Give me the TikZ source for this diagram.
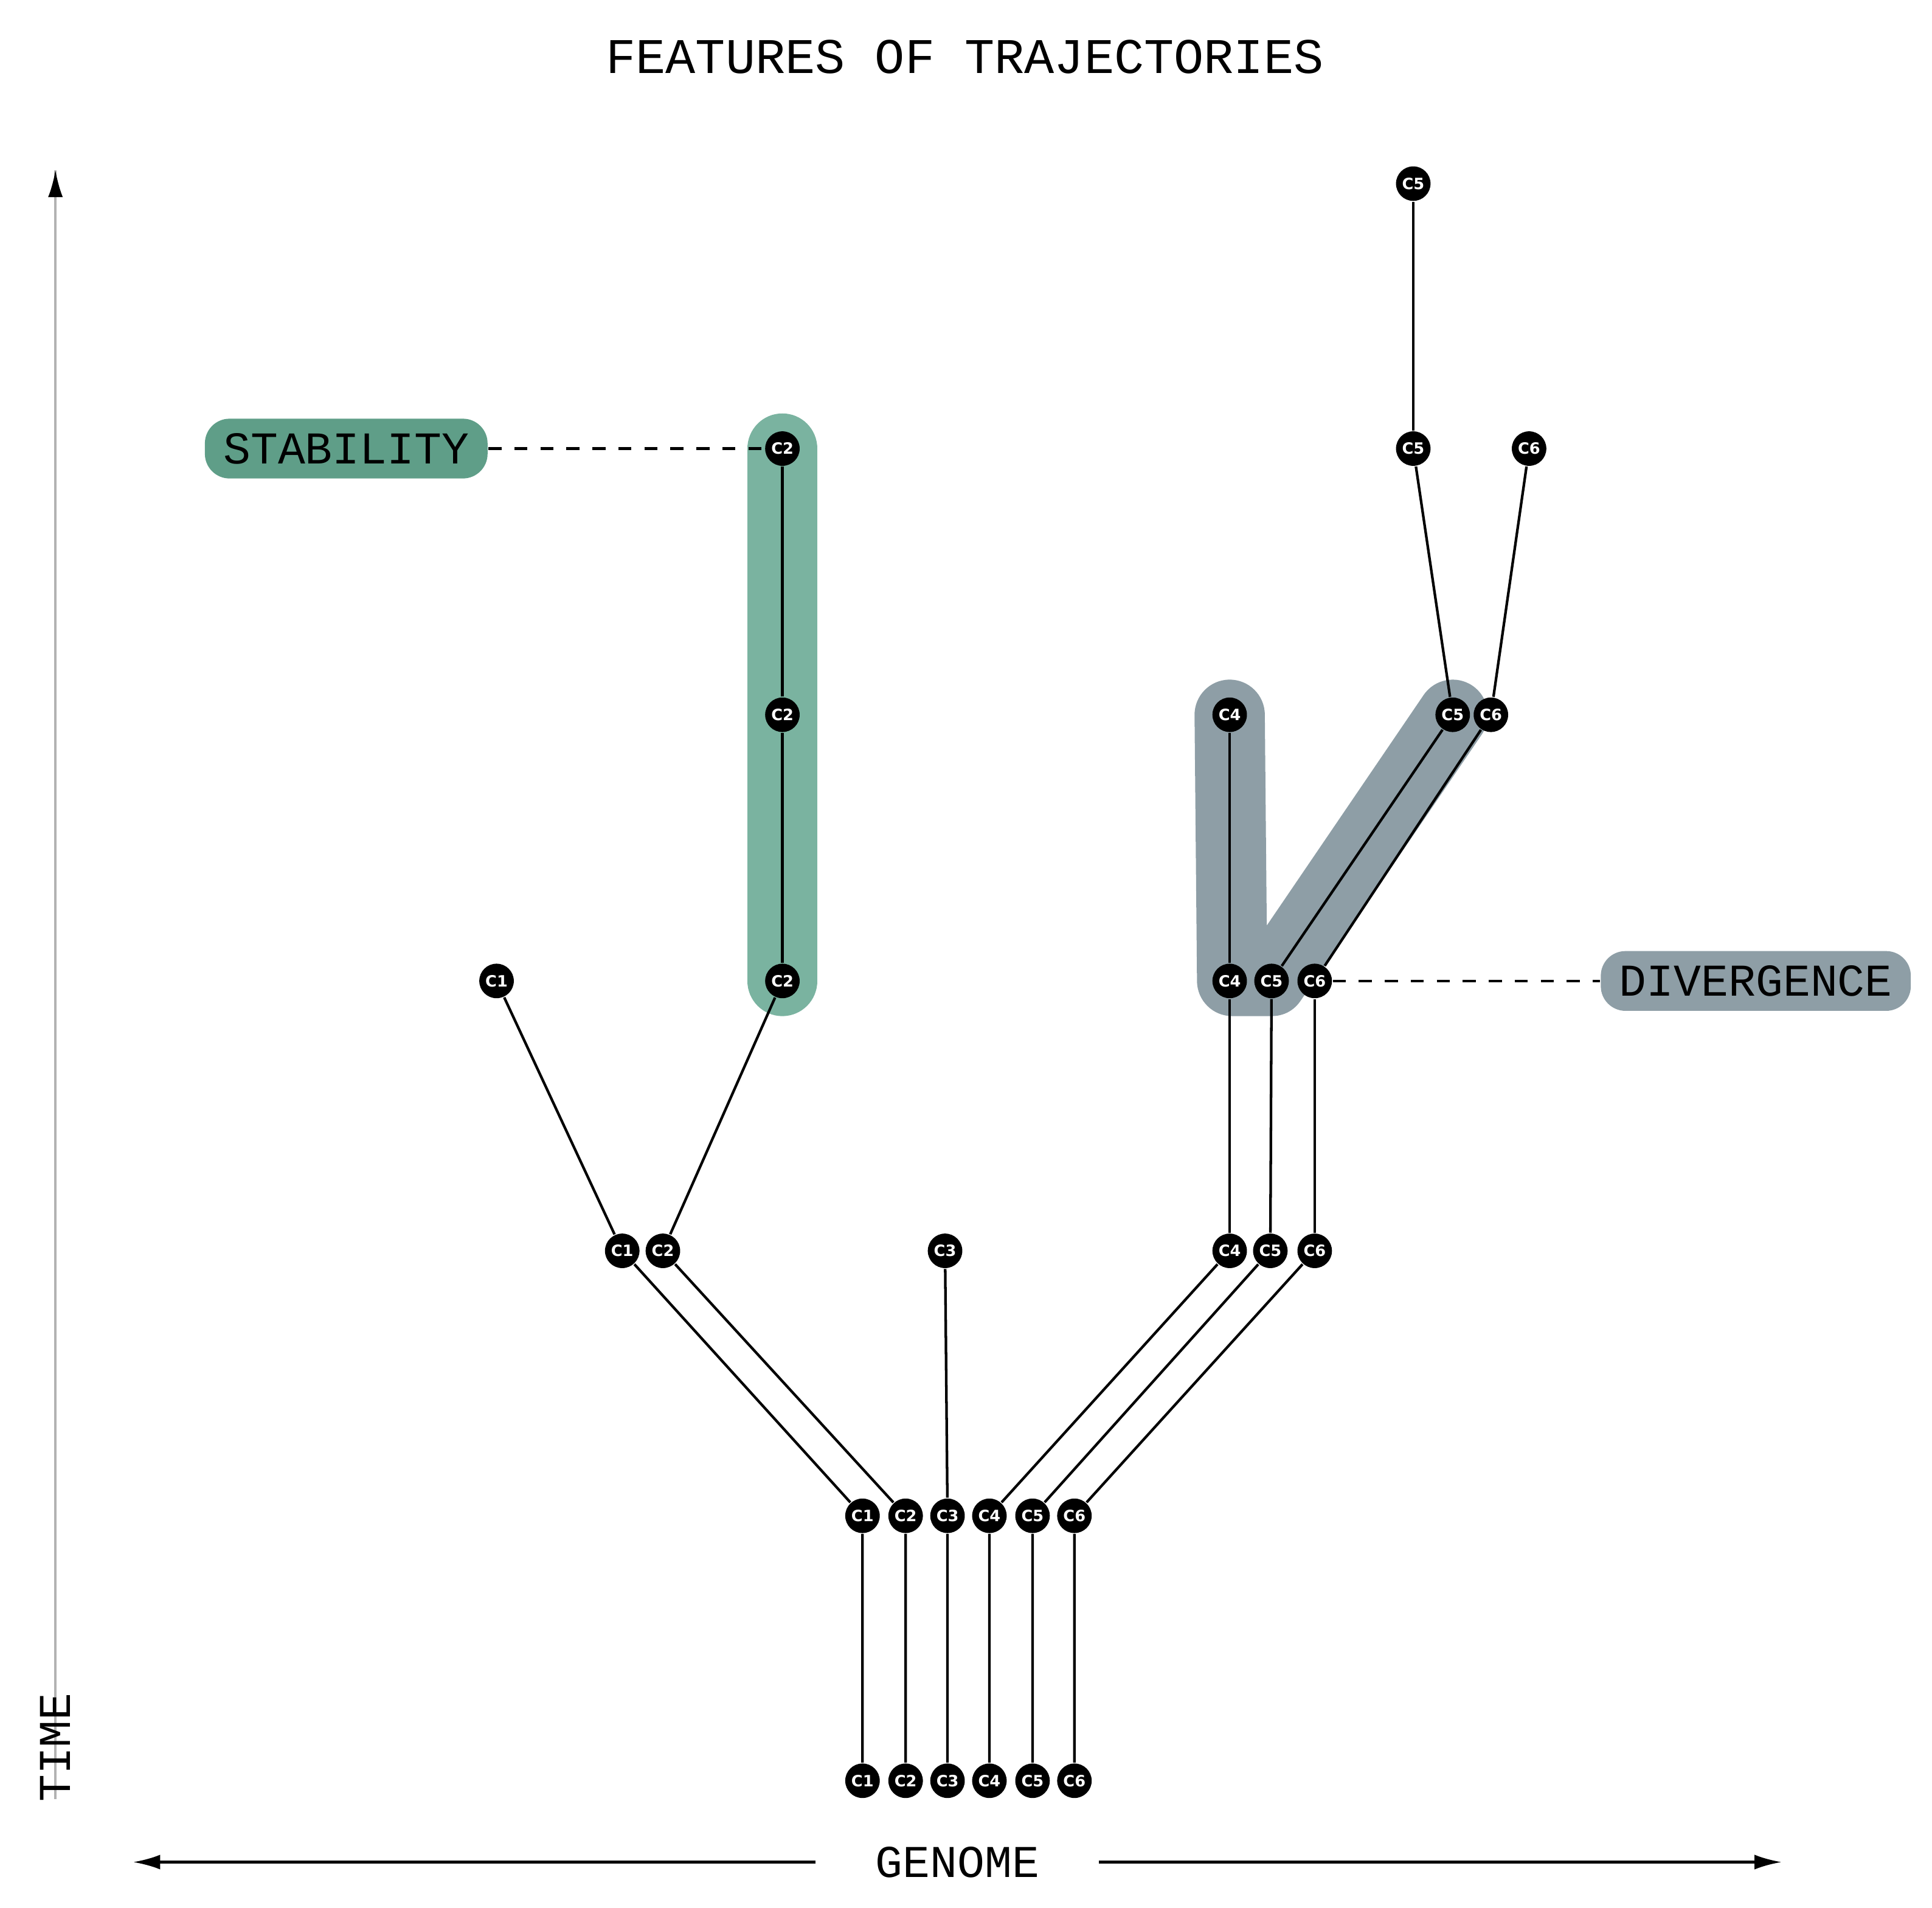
\documentclass[tikz,border=0pt]{standalone}
\usepackage{fontspec}
\setmainfont{Liberation Mono}
\newfontfamily\cellfont{DejaVu Sans}
\usetikzlibrary{positioning, arrows.meta}
\definecolor{stabgreen}{HTML}{5F9E88}
\definecolor{stablight}{HTML}{7AB3A0}
\definecolor{divgray}{HTML}{8E9EA6}
\tikzstyle{cell}  = [circle, fill=black, inner sep=0pt, minimum size=0.28cm, text=white, font=\cellfont\bfseries\fontsize{3.6}{4}\selectfont]
\tikzstyle{link}  = [line width=0.6pt]
\tikzstyle{tag}   = [rectangle, rounded corners=0.2cm, minimum height=0.42cm, inner xsep=0.15cm, font=\fontsize{10.5}{12}\selectfont]
\tikzstyle{hilite}= [line width=0.57cm, line cap=round, line join=round]

\begin{document}
\begin{tikzpicture}[x=0.01cm, y=-0.01cm]
            \useasboundingbox (0,0) rectangle (1568,1548);

            % highlights
            \draw[hilite, stablight] (635,364) -- (635,796);
            \draw[hilite, divgray] (998,580) -- (1000,796) -- (1032,796) -- (1179,580);

            % cells, row by row
            \foreach \i/\x in {1/700, 2/735, 3/769, 4/803, 5/838, 6/872} {
                \node[cell] (a\i) at (\x,1445) {C\i};
                \node[cell] (b\i) at (\x,1230) {C\i};
            }
            \foreach \i/\x in {1/505, 2/538, 3/767, 4/998, 5/1031, 6/1067}
                \node[cell] (c\i) at (\x,1015) {C\i};
            \foreach \i/\x in {1/403, 2/635, 4/998, 5/1032, 6/1067}
                \node[cell] (d\i) at (\x,796) {C\i};
            \foreach \i/\x in {2/635, 4/998, 5/1179, 6/1210}
                \node[cell] (e\i) at (\x,580) {C\i};
            \foreach \i/\x in {2/635, 5/1147, 6/1241}
                \node[cell] (f\i) at (\x,364) {C\i};
            \node[cell] (g5) at (1147,149) {C5};

            % trajectories
            \foreach \i in {1,...,6} \draw[link] (a\i) -- (b\i) -- (c\i);
            \foreach \i in {1,2,4,5,6} \draw[link] (c\i) -- (d\i);
            \foreach \i in {2,4,5,6} \draw[link] (d\i) -- (e\i);
            \foreach \i in {2,5,6} \draw[link] (e\i) -- (f\i);
            \draw[link] (f5) -- (g5);

            % labels
            \node[tag, fill=stabgreen] (stab) at (281,364) {STABILITY};
            \node[tag, fill=divgray]   (div)  at (1425,796) {DIVERGENCE};
            \draw[link, dashed] (stab) -- (f2);
            \draw[link, dashed] (d6) -- (div);

            \node[font=\fontsize{11.5}{13}\selectfont] (title) at (783,46) {FEATURES OF TRAJECTORIES};

            % axes
            \coordinate (tbot) at (45,1460);
            \coordinate (ttop) at (45,138);
            \draw[black!30, line width=0.5pt] (tbot) -- (ttop);
            \draw[-{Latex[length=0.22cm, width=0.12cm]}, line width=0.5pt] (45,160) -- (ttop);
            \node[rotate=90, font=\fontsize{10.5}{12}\selectfont] (time) at (45,1418) {TIME};
            \node[font=\fontsize{10.5}{12}\selectfont] (genome) at (777,1511) {GENOME};
            \coordinate (gl) at (108,1511);
            \coordinate (gr) at (1446,1511);
            \draw[link, -{Latex[length=0.22cm, width=0.12cm]}] (662,1511) -- (gl);
            \draw[link, -{Latex[length=0.22cm, width=0.12cm]}] (892,1511) -- (gr);
        \end{tikzpicture}
\end{document}
